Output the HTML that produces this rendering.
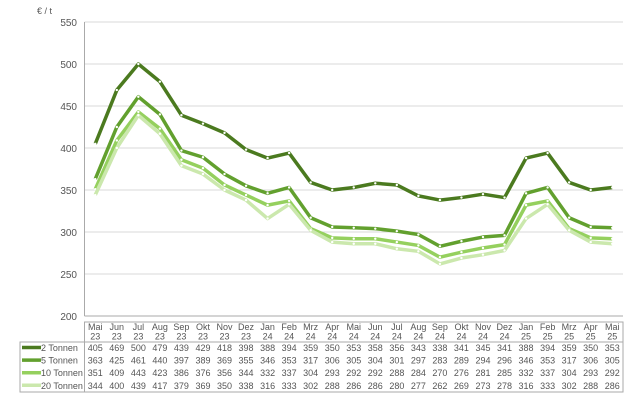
<!DOCTYPE html>
<html><head><meta charset="utf-8"><style>
body{margin:0;background:#fff;font-family:"Liberation Sans",sans-serif;}
svg text{font-family:"Liberation Sans",sans-serif;fill:#555;}
</style></head><body>
<svg id="c" width="636" height="411" viewBox="0 0 636 411"></svg>
<script>
const months=["Mai","Jun","Jul","Aug","Sep","Okt","Nov","Dez","Jan","Feb","Mrz","Apr","Mai","Jun","Jul","Aug","Sep","Okt","Nov","Dez","Jan","Feb","Mrz","Apr","Mai"];
const years=["23","23","23","23","23","23","23","23","24","24","24","24","24","24","24","24","24","24","24","24","25","25","25","25","25"];
const seriesNames=["2 Tonnen","5 Tonnen","10 Tonnen","20 Tonnen"];
const s2=[405,469,500,479,439,429,418,398,388,394,359,350,353,358,356,343,338,341,345,341,388,394,359,350,353];
const s5=[363,425,461,440,397,389,369,355,346,353,317,306,305,304,301,297,283,289,294,296,346,353,317,306,305];
const s10=[351,409,443,423,386,376,356,344,332,337,304,293,292,292,288,284,270,276,281,285,332,337,304,293,292];
const s20=[344,400,439,417,379,369,350,338,316,333,302,288,286,286,280,277,262,269,273,278,316,333,302,288,286];
const yTicks=[200,250,300,350,400,450,500,550];
const colors=["#4b7a1f","#62a02e","#95d05e","#cbe8ad"];
const svg=document.getElementById('c');const NS="http://www.w3.org/2000/svg";
const L=84.5,R=623,T=22,B=316;
const colW=(R-L)/months.length;
const x=i=>L+colW*(i+0.5);
const y=v=>B-(v-200)/350*(B-T);
function mk(t,a,txt){const e=document.createElementNS(NS,t);for(const k in a)e.setAttribute(k,a[k]);if(txt!==undefined)e.textContent=txt;svg.appendChild(e);return e;}
let e;
yTicks.forEach(v=>{
 e=mk('line',{x1:L,x2:R,y1:y(v),y2:y(v),stroke:v===200?'#aaa':'#d9d9d9','stroke-width':1});
 
 
 e=mk('text',{x:77,y:y(v)+4,'text-anchor':'end','font-size':10},String(v));
 
 
});
e=mk('line',{x1:L,x2:L,y1:T,y2:B,stroke:'#aaa'});


e=mk('text',{x:37,y:14,'font-size':9},'€ / t');


const all=[s2,s5,s10,s20];
all.forEach((s,k)=>{
 e=mk('polyline',{points:s.map((v,i)=>x(i)+','+y(v)).join(' '),fill:'none',stroke:colors[k],'stroke-width':3.5,'stroke-linejoin':'round'});
 
 
 s.forEach((v,i)=>{e=mk('circle',{cx:x(i),cy:y(v),r:1.2,fill:'#fff'});
  
  });
});
// table
const tT=322,tH=342,rowH=12.6,tB=392,tL=20;
e=mk('rect',{x:L,y:tT,width:R-L,height:tH-tT,fill:'none',stroke:'#aaa'});


e=mk('rect',{x:tL,y:tH,width:R-tL,height:tB-tH,fill:'none',stroke:'#aaa'});


e=mk('line',{x1:L,x2:L,y1:tH,y2:tB,stroke:'#aaa'});


months.forEach((m,i)=>{
 e=mk('text',{x:x(i),y:330,'text-anchor':'middle','font-size':9},m);
 
 
 e=mk('text',{x:x(i),y:339.5,'text-anchor':'middle','font-size':9},years[i]);
 
 
});
all.forEach((s,k)=>{
 const cy=tH+5.5+rowH*k;
 e=mk('line',{x1:22,x2:41,y1:cy,y2:cy,stroke:colors[k],'stroke-width':3.5});
 
 
 e=mk('text',{x:41,y:cy+3.5,'font-size':9},seriesNames[k]);
 
 
 s.forEach((v,i)=>{e=mk('text',{x:x(i),y:cy+3.5,'text-anchor':'middle','font-size':9},String(v));
  
  });
});
</script>
</body></html>
